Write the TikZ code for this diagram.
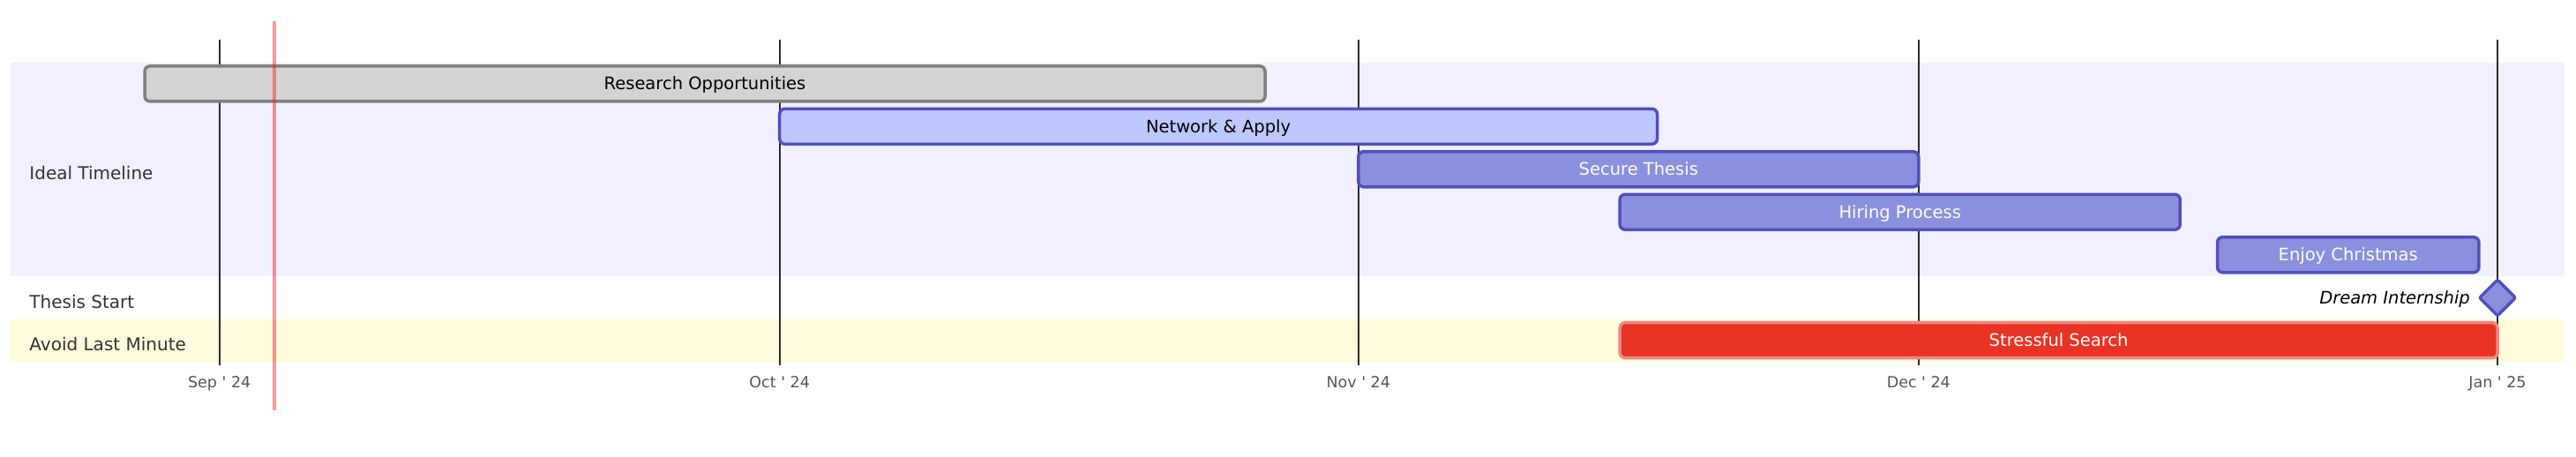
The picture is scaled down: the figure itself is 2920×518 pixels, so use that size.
\documentclass[tikz,border=0pt]{standalone}
\usepackage{fontspec}
\setmainfont{DejaVu Sans}
\usepackage{tikz}
\usepackage{xcolor}
\usetikzlibrary{shapes.geometric}

\definecolor{bandA}{RGB}{240,240,255}
\definecolor{bandB}{RGB}{255,251,220}
\definecolor{taskfill}{RGB}{138,144,221}
\definecolor{taskline}{RGB}{83,79,188}
\definecolor{actfill}{RGB}{191,199,255}
\definecolor{donefill}{RGB}{211,211,211}
\definecolor{doneline}{RGB}{128,128,128}
\definecolor{critfill}{RGB}{233,51,36}
\definecolor{critline}{RGB}{240,136,128}
\definecolor{gridcol}{RGB}{43,43,43}
\definecolor{axiscol}{RGB}{85,85,85}
\definecolor{sectcol}{RGB}{51,51,51}
\definecolor{todaycol}{RGB}{235,30,30}

\begin{document}
\begin{tikzpicture}[x=0.5pt, y=-0.5pt]
	\tikzstyle{bar} = [rectangle, rounded corners=3pt, line width=1.75pt, minimum height=20pt, inner sep=0pt, text height=7.1pt, text depth=0pt, font=\fontsize{9.75}{11}\selectfont]
	\tikzstyle{plainbar} = [bar, draw=taskline, fill=taskfill, text=white]
	\tikzstyle{actbar} = [bar, draw=taskline, fill=actfill, text=black]
	\tikzstyle{donebar} = [bar, draw=doneline, fill=donefill, text=black]
	\tikzstyle{critbar} = [bar, draw=critline, fill=critfill, text=white]
	\tikzstyle{milestone} = [diamond, aspect=1, draw=taskline, fill=taskfill, line width=1.75pt, rounded corners=1pt, minimum width=21pt, minimum height=21pt, inner sep=0pt]
	\tikzstyle{sect} = [anchor=west, inner sep=0pt, text=sectcol, text height=7.3pt, text depth=0pt, font=\fontsize{10}{12}\selectfont]
	\tikzstyle{axis} = [inner sep=0pt, text=axiscol, text height=6.4pt, text depth=0pt, font=\fontsize{8.75}{10}\selectfont]
	\tikzstyle{gridline} = [draw=gridcol, line width=1pt]
	\tikzstyle{today} = [draw=todaycol, draw opacity=0.45, line width=2pt]
\useasboundingbox (0,0) rectangle (2920,518);
% section bands
\fill[bandA] (12,70.7) rectangle (2907,313);
\fill[bandB] (12,362) rectangle (2907,410);
% month lines
\coordinate (sepT) at (248.7,45);
\coordinate (sepB) at (248.7,413.7);
\coordinate (octT) at (883.7,45);
\coordinate (octB) at (883.7,413.7);
\coordinate (novT) at (1539.8,45);
\coordinate (novB) at (1539.8,413.7);
\coordinate (decT) at (2174.8,45);
\coordinate (decB) at (2174.8,413.7);
\coordinate (janT) at (2831,45);
\coordinate (janB) at (2831,413.7);
\draw[gridline] (sepT) -- (sepB);
\draw[gridline] (octT) -- (octB);
\draw[gridline] (novT) -- (novB);
\draw[gridline] (decT) -- (decB);
\draw[gridline] (janT) -- (janB);
\node(sepl)[axis] at (248.7,433.5) {Sep \textquotesingle{} 24};
\node(octl)[axis] at (883.7,433.5) {Oct \textquotesingle{} 24};
\node(novl)[axis] at (1539.8,433.5) {Nov \textquotesingle{} 24};
\node(decl)[axis] at (2174.8,433.5) {Dec \textquotesingle{} 24};
\node(janl)[axis] at (2831,433.5) {Jan \textquotesingle{} 25};
% sections
\node(ideal)[sect] at (33,196) {Ideal Timeline};
\node(thesis)[sect] at (33,342) {Thesis Start};
\node(avoid)[sect] at (33,390) {Avoid Last Minute};
% tasks
\node(research)[donebar, minimum width=635pt] at (799,94.9) {Research Opportunities};
\node(network)[actbar, minimum width=497.4pt] at (1381.1,143.3) {Network \& Apply};
\node(secure)[plainbar, minimum width=317.5pt] at (1857.3,191.8) {Secure Thesis};
\node(hiring)[plainbar, minimum width=317.5pt] at (2153.7,240.3) {Hiring Process};
\node(xmas)[plainbar, minimum width=148.2pt] at (2661.7,288.8) {Enjoy Christmas};
\node(dream)[milestone] at (2831,337.5) {};
\node(dreaml)[anchor=east, inner sep=0pt, text height=7.1pt, text depth=0pt, font=\fontsize{9.75}{11}\selectfont\itshape] at ([xshift=-4pt]dream.west) {Dream Internship};
\node(stress)[critbar, minimum width=497.4pt] at (2333.6,385.7) {Stressful Search};
% today
\coordinate (nowT) at (311,24);
\coordinate (nowB) at (311,464.7);
\draw[today] (nowT) -- (nowB);
  \end{tikzpicture}
\end{document}
